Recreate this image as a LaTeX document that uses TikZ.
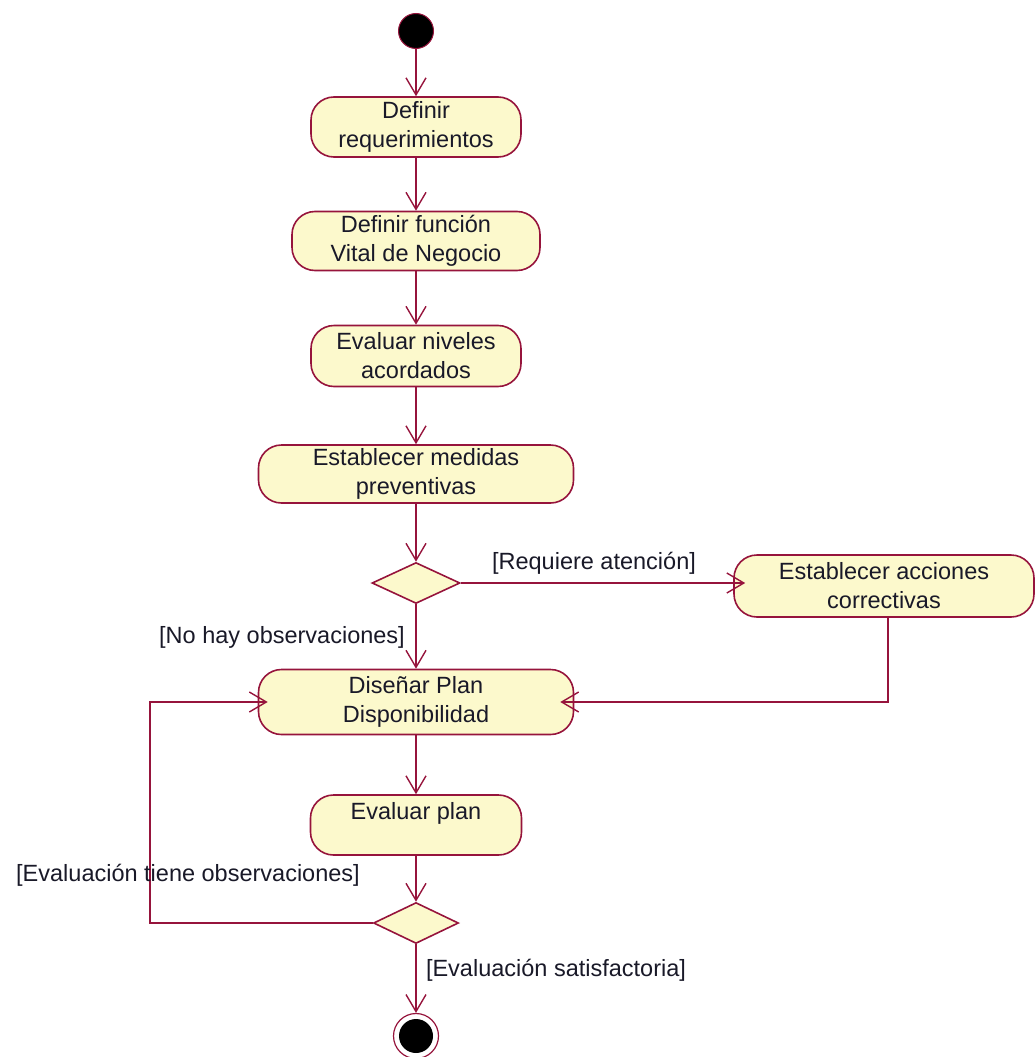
\documentclass[tikz,border=0pt]{standalone}
\usepackage{fontspec}
\setmainfont{Liberation Sans}
\usetikzlibrary{arrows.meta,shapes.geometric}
\definecolor{umlline}{RGB}{150,20,60}
\definecolor{umlfill}{RGB}{252,249,204}
\definecolor{umltext}{RGB}{25,25,40}
\begin{document}
\begin{tikzpicture}[x=1pt,y=-1pt,
  activity/.style={draw=umlline, fill=umlfill, line width=1.6pt, rounded corners=23pt,
    align=center, inner sep=0pt, text=umltext,
    font=\fontsize{23.5}{29}\selectfont},
  decision/.style={draw=umlline, fill=umlfill, line width=1.6pt, diamond, aspect=2,
    inner sep=0pt},
  flow/.style={draw=umlline, line width=1.6pt, -{Straight Barb[length=17pt,width=20pt,line width=1.4pt]}},
  guard/.style={text=umltext, font=\fontsize{23.5}{29}\selectfont, inner sep=0pt}
]
\useasboundingbox (0,0) rectangle (1035,1057);

\node[circle, fill=black, draw=umlline, line width=1pt, minimum size=35pt, inner sep=0pt] (start) at (416,31) {};
\node[activity, minimum width=210pt, minimum height=60pt] (n1) at (416,127) {Definir\\requerimientos};
\node[activity, minimum width=248pt, minimum height=59pt] (n2) at (416,241) {Definir función\\Vital de Negocio};
\node[activity, minimum width=210pt, minimum height=61pt] (n3) at (416,356) {Evaluar niveles\\acordados};
\node[activity, minimum width=315pt, minimum height=58pt] (n4) at (416,474) {Establecer medidas\\preventivas};
\node[decision, minimum width=88pt, minimum height=41pt] (d1) at (416,583) {};
\node[activity, minimum width=300pt, minimum height=62pt] (n5) at (884,586) {Establecer acciones\\correctivas};
\node[activity, minimum width=315pt, minimum height=65pt] (n6) at (416,702) {Diseñar Plan\\Disponibilidad};
\node[activity, minimum width=211pt, minimum height=60pt] (n7) at (416,825) {Evaluar plan\\\mbox{}};
\node[decision, minimum width=85pt, minimum height=41pt] (d2) at (416,923) {};
\node[circle, draw=umlline, line width=1.2pt, fill=white, minimum size=45pt, inner sep=0pt] (end) at (416,1036) {};
\node[circle, fill=black, minimum size=34pt, inner sep=0pt] (endin) at (end.center) {};

\draw[flow] (start) -- (n1);
\draw[flow] (n1) -- (n2);
\draw[flow] (n2) -- (n3);
\draw[flow] (n3) -- (n4);
\draw[flow] (n4) -- (d1);
\draw[flow] (d1.east) -- ([xshift=12pt]d1.east -| n5.west);
\draw[flow] (d1.south) -- (n6.north);
\draw[flow] (n5.south -| 888,0) |- ([xshift=-14pt]n6.east);
\draw[flow] (n6) -- (n7);
\draw[flow] (n7) -- (d2);
\draw[flow] (d2.west) -| (150,702) -- ([xshift=10pt]n6.west);
\draw[flow] (d2.south) -- (end.north);

\node[guard] (g1) at (594,563) {[Requiere atención]};
\node[guard] (g2) at (282,637) {[No hay observaciones]};
\node[guard] (g3) at (188,875) {[Evaluación tiene observaciones]};
\node[guard] (g4) at (556,970) {[Evaluación satisfactoria]};
\end{tikzpicture}
\end{document}
